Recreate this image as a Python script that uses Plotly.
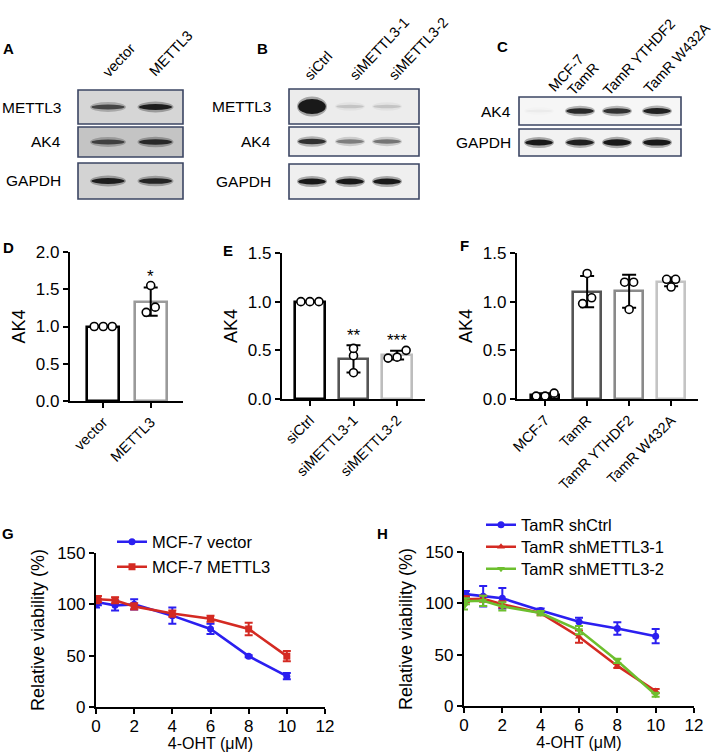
import plotly.graph_objects as go

W, H = 726, 755
FONT = "Arial, Liberation Sans, sans-serif"

# ---------------- data ----------------
# Western blot relative band signal (0 = none)
blotA_lanes = ["vector", "METTL3"]
blotA_rows = ["METTL3", "AK4", "GAPDH"]
blotA_signal = [[0.70, 0.95], [0.70, 0.85], [0.95, 0.90]]

blotB_lanes = ["siCtrl", "siMETTL3-1", "siMETTL3-2"]
blotB_rows = ["METTL3", "AK4", "GAPDH"]
blotB_signal = [[4.0, 0.15, 0.15], [0.85, 0.45, 0.50], [1.0, 1.0, 1.0]]

blotC_lanes = ["MCF-7", "TamR", "TamR YTHDF2", "TamR W432A"]
blotC_rows = ["AK4", "GAPDH"]
blotC_signal = [[0.04, 0.90, 0.85, 0.95], [1.0, 0.95, 1.1, 1.05]]

D_cats = ["vector", "METTL3"]
D_reps = [[1.0, 1.0, 1.0], [1.19, 1.55, 1.26]]
D_sd = [0.0, 0.19]
D_sig = ["", "*"]

E_cats = ["siCtrl", "siMETTL3-1", "siMETTL3-2"]
E_reps = [[1.0, 1.0, 1.0], [0.52, 0.445, 0.27], [0.50, 0.42, 0.43]]
E_sd = [0.0, 0.14, 0.045]
E_sig = ["", "**", "***"]

F_cats = ["MCF-7", "TamR", "TamR YTHDF2", "TamR W432A"]
F_reps = [[0.06, 0.03, 0.03], [1.29, 1.04, 0.98], [1.20, 1.20, 0.92], [1.23, 1.23, 1.15]]
F_sd = [0.02, 0.16, 0.17, 0.045]

dose = [0, 0.1, 1, 2, 4, 6, 8, 10]
G_vector = [100, 102, 99, 100, 89, 76, 49.5, 30]
G_vector_err = [3, 3, 5, 5, 8, 5, 1, 3]
G_mettl3 = [104, 105, 104, 98, 91, 86, 76, 49.5]
G_mettl3_err = [3, 3, 3, 3, 3, 3, 6, 5]

H_shctrl = [100, 109, 107, 105, 93, 82, 75.5, 68]
H_shctrl_err = [0, 3, 10, 10, 2, 4, 6, 7]
H_sh1 = [103, 104, 104.5, 99, 90.5, 67.5, 39, 14.5]
H_sh1_err = [4, 3, 3, 3, 2, 6, 2, 2]
H_sh2 = [97, 102, 102.5, 97, 90.5, 74, 44, 11]
H_sh2_err = [3, 3, 5, 4, 2, 4, 2, 2]


def X(p):
    return p / W


def Y(p):
    return 1 - p / H


fig = go.Figure()
shapes = []
annotations = []

# ---------------- western blots ----------------
def draw_blot(box_x, rows_y, lane_cx, half_w, signal, row_names, row_label_x, fills):
    for (y0, y1), sig, name, fill in zip(rows_y, signal, row_names, fills):
        shapes.append(dict(type="rect", xref="paper", yref="paper",
                           x0=X(box_x[0]), x1=X(box_x[1]), y0=Y(y1), y1=Y(y0),
                           fillcolor=fill, line=dict(color="#3b4563", width=1.6), layer="above"))
        cy = (y0 + y1) / 2
        for cx, v in zip(lane_cx, sig):
            if v <= 0:
                continue
            a = min(1.0, v)
            hin = 3 + 3 * v
            hout = hin + 5
            shapes.append(dict(type="circle", xref="paper", yref="paper",
                               x0=X(cx - half_w), x1=X(cx + half_w),
                               y0=Y(cy + hout / 2), y1=Y(cy - hout / 2),
                               fillcolor="rgba(0,0,0,%.2f)" % (0.30 * a), line=dict(width=0), layer="above"))
            shapes.append(dict(type="circle", xref="paper", yref="paper",
                               x0=X(cx - half_w * 0.92), x1=X(cx + half_w * 0.92),
                               y0=Y(cy + hin / 2), y1=Y(cy - hin / 2),
                               fillcolor="rgba(0,0,0,%.2f)" % (0.85 * a), line=dict(width=0), layer="above"))
        annotations.append(dict(x=X(row_label_x), y=Y(cy), xref="paper", yref="paper",
                                text=name, showarrow=False, xanchor="right", yanchor="middle",
                                font=dict(size=15.5, color="black", family=FONT)))


draw_blot((78, 183), [(90, 124), (127, 157), (163, 199)], [108, 155.5], 18,
          blotA_signal, blotA_rows, 63, ["#d6d6d6", "#c4c4c4", "#d3d3d3"])
draw_blot((289, 419), [(89, 124), (127, 156), (164, 199)], [312, 350, 387], 15,
          blotB_signal, blotB_rows, 273, ["#ececec", "#eeeeee", "#efefef"])
draw_blot((519, 681), [(97, 125), (129, 156)], [539, 580, 617, 657], 15,
          blotC_signal, blotC_rows, 513, ["#f6f6f6", "#f2f2f2"])

lane_label_centers = {
    "A": [(119, 60), (171, 53)],
    "B": [(318, 66), (379, 49), (418, 49)],
    "C": [(566, 73), (583, 79), (639, 57), (677, 58)],
}
for lanes, key in [(blotA_lanes, "A"), (blotB_lanes, "B"), (blotC_lanes, "C")]:
    for name, (cx, cy) in zip(lanes, lane_label_centers[key]):
        annotations.append(dict(x=X(cx), y=Y(cy), xref="paper", yref="paper", text=name,
                                showarrow=False, textangle=-47, xanchor="center", yanchor="middle",
                                font=dict(size=14.5, color="black", family=FONT)))

# ---------------- bar panels ----------------
def bar_panel(idx, cats, reps, sd, colors, dom_x, dom_y, yrange, xrange, sig=None, px_per_x=45, px_per_y=75):
    xa = "x" if idx == 1 else "x%d" % idx
    ya = "y" if idx == 1 else "y%d" % idx
    means = [sum(r) / len(r) for r in reps]
    pos = list(range(len(cats)))
    fig.add_trace(go.Bar(x=pos, y=means, width=0.68, xaxis=xa, yaxis=ya,
                         marker=dict(color="white", line=dict(color=colors, width=2.6)),
                         error_y=dict(type="data", array=sd, visible=True, color="black",
                                      thickness=2, width=7),
                         showlegend=False))
    # dots (cluster overlapping points side by side)
    dx, dy = [], []
    step = 9.0 / px_per_x
    for i, r in enumerate(reps):
        vals = sorted(r)
        clusters = [[vals[0]]]
        for v in vals[1:]:
            if (v - clusters[-1][-1]) * px_per_y < 7:
                clusters[-1].append(v)
            else:
                clusters.append([v])
        for c in clusters:
            n = len(c)
            for k, v in enumerate(c):
                dx.append(i + (k - (n - 1) / 2) * step)
                dy.append(v)
    fig.add_trace(go.Scatter(x=dx, y=dy, mode="markers", xaxis=xa, yaxis=ya, showlegend=False,
                             marker=dict(symbol="circle", size=8, color="white",
                                         line=dict(color="black", width=1.6))))
    if sig:
        for i, s in enumerate(sig):
            if s:
                top = max(means[i] + sd[i], max(reps[i]))
                annotations.append(dict(x=i, y=top, xref=xa, yref=ya, text=s, showarrow=False,
                                        yanchor="bottom", yshift=-2,
                                        font=dict(size=17, color="black", family=FONT)))
    axx = dict(domain=[X(dom_x[0]), X(dom_x[1])], anchor=ya, range=xrange, automargin=False,
               tickmode="array", tickvals=pos, ticktext=cats, tickangle=-45,
               showline=True, linecolor="black", linewidth=2.2, ticks="outside",
               ticklen=5, tickwidth=2, tickcolor="black", showgrid=False, zeroline=False,
               tickfont=dict(size=14.5, color="black", family=FONT))
    axy = dict(domain=[Y(dom_y[1]), Y(dom_y[0])], anchor=xa, range=yrange, dtick=0.5,
               automargin=False, tickformat=".1f", showline=True, linecolor="black", linewidth=2.2,
               ticks="outside", ticklen=5, tickwidth=2, tickcolor="black", showgrid=False,
               zeroline=False, tickfont=dict(size=17, color="black", family=FONT),
               title=dict(text="AK4", font=dict(size=18, color="black", family=FONT), standoff=6))
    return axx, axy


ax1x, ax1y = bar_panel(1, D_cats, D_reps, D_sd, ["#000000", "#9a9a9a"], (70, 183), (252, 401),
                       [0, 2.0], [-0.70, 1.68], D_sig, 47.5, 74.5)
ax2x, ax2y = bar_panel(2, E_cats, E_reps, E_sd, ["#000000", "#555555", "#bdbdbd"], (282, 425),
                       (253, 399), [0, 1.5], [-0.64, 2.64], E_sig, 43.5, 97.3)
ax3x, ax3y = bar_panel(3, F_cats, F_reps, F_sd, ["#000000", "#555555", "#8a8a8a", "#c4c4c4"],
                       (517, 698), (253, 399), [0, 1.5], [-0.67, 3.64], None, 42, 97.3)

# ---------------- line panels ----------------
def line_trace(x, y, err, name, color, symbol, xa, ya, legend):
    return go.Scatter(x=x, y=y, name=name, mode="lines+markers", xaxis=xa, yaxis=ya,
                      legend=legend, line=dict(color=color, width=2.6),
                      marker=dict(symbol=symbol, size=7, color=color),
                      error_y=dict(type="data", array=err, visible=True, color=color,
                                   thickness=2, width=4))


BLUE, RED, GREEN = "#2b1ff0", "#d42a22", "#6dbf2e"
fig.add_trace(line_trace(dose, G_vector, G_vector_err, "MCF-7 vector", BLUE, "circle", "x4", "y4", "legend"))
fig.add_trace(line_trace(dose, G_mettl3, G_mettl3_err, "MCF-7 METTL3", RED, "square", "x4", "y4", "legend2"))
fig.add_trace(line_trace(dose, H_shctrl, H_shctrl_err, "TamR shCtrl", BLUE, "circle", "x5", "y5", "legend3"))
fig.add_trace(line_trace(dose, H_sh1, H_sh1_err, "TamR shMETTL3-1", RED, "triangle-up", "x5", "y5", "legend4"))
fig.add_trace(line_trace(dose, H_sh2, H_sh2_err, "TamR shMETTL3-2", GREEN, "triangle-down", "x5", "y5", "legend5"))


def line_axes(xa, ya, dom_x, dom_y):
    axx = dict(domain=[X(dom_x[0]), X(dom_x[1])], anchor=ya, range=[0, 12], dtick=2,
               automargin=False, showline=True, linecolor="black", linewidth=2.2, ticks="outside",
               ticklen=5, tickwidth=2, tickcolor="black", showgrid=False, zeroline=False,
               ticklabelstandoff=-3,
               tickfont=dict(size=17, color="black", family=FONT),
               title=dict(text="4-OHT (μM)", font=dict(size=16, color="black", family=FONT), standoff=1))
    axy = dict(domain=[Y(dom_y[1]), Y(dom_y[0])], anchor=xa, range=[0, 150], dtick=50,
               automargin=False, showline=True, linecolor="black", linewidth=2.2, ticks="outside",
               ticklen=5, tickwidth=2, tickcolor="black", showgrid=False, zeroline=False,
               tickfont=dict(size=17, color="black", family=FONT),
               title=dict(text="Relative viability (%)", font=dict(size=18, color="black", family=FONT), standoff=8))
    return axx, axy


ax4x, ax4y = line_axes("x4", "y4", (96, 325), (553, 707))
ax5x, ax5y = line_axes("x5", "y5", (464, 694), (552, 706))

# ---------------- panel letters ----------------
for letter, (lx, ly) in {"A": (8, 48), "B": (262, 48), "C": (503, 47), "D": (8, 247),
                         "E": (228, 250), "F": (464, 246), "G": (8, 533), "H": (383, 533)}.items():
    annotations.append(dict(x=X(lx), y=Y(ly), xref="paper", yref="paper", text="<b>%s</b>" % letter,
                            showarrow=False, xanchor="center", yanchor="middle",
                            font=dict(size=15, color="black", family=FONT)))


def leg(x_text, y_row):
    return dict(x=X(x_text - 40), y=Y(y_row), xanchor="left", yanchor="middle",
                bgcolor="rgba(0,0,0,0)", font=dict(size=16.5, color="black", family=FONT),
                itemwidth=30, tracegroupgap=0)


fig.update_layout(
    width=W, height=H, margin=dict(l=0, r=0, t=0, b=0, pad=0, autoexpand=False),
    paper_bgcolor="white", plot_bgcolor="white",
    font=dict(family=FONT, color="black"),
    xaxis=ax1x, yaxis=ax1y, xaxis2=ax2x, yaxis2=ax2y, xaxis3=ax3x, yaxis3=ax3y,
    xaxis4=ax4x, yaxis4=ax4y, xaxis5=ax5x, yaxis5=ax5y,
    shapes=shapes, annotations=annotations, bargap=0,
    legend=leg(152, 542), legend2=leg(152, 567),
    legend3=leg(521, 525), legend4=leg(521, 547), legend5=leg(521, 569),
)

fig.write_html("out.html", config={"displayModeBar": False},
               post_script="document.body.style.margin='0';document.body.style.padding='0';"
                           "document.documentElement.style.overflow='hidden';")
